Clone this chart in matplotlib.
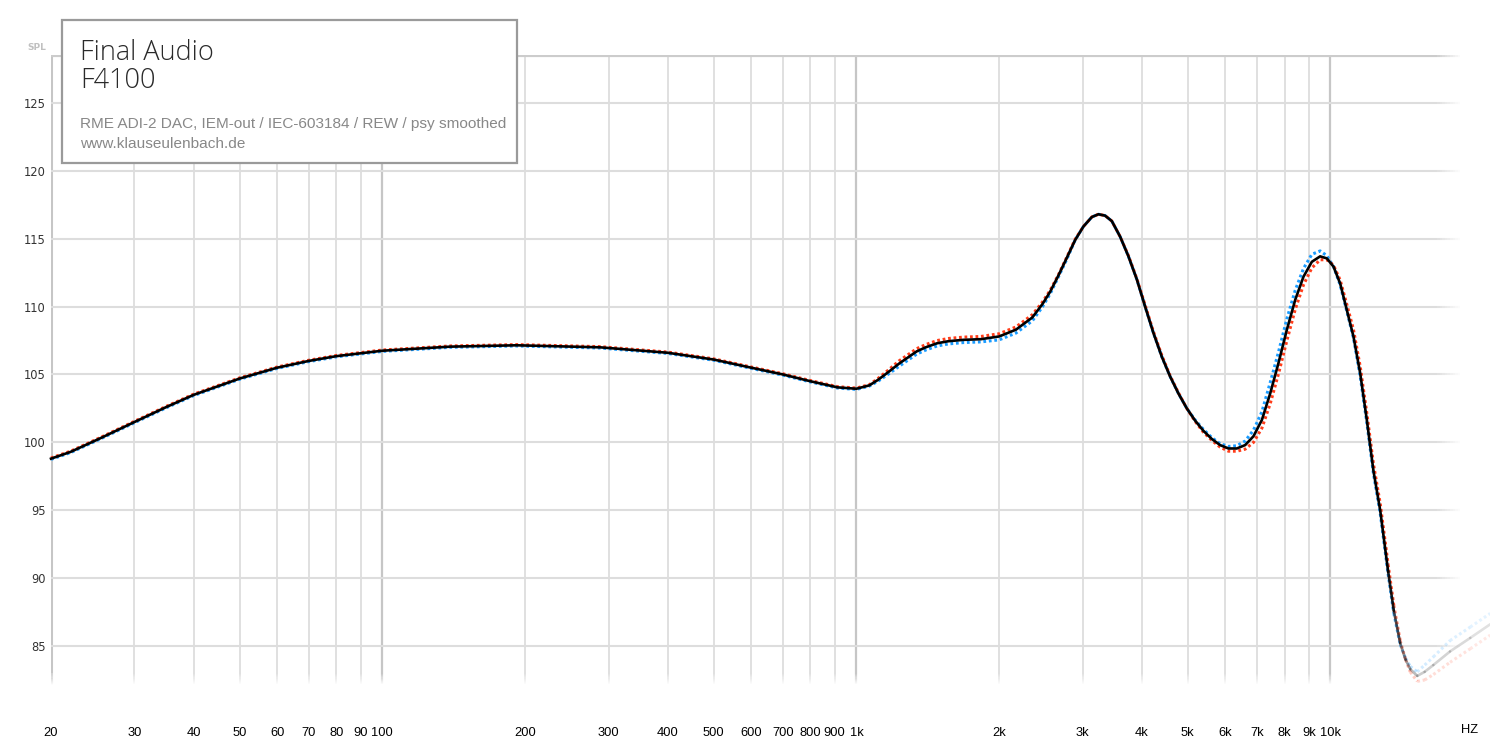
import numpy as np
import matplotlib
matplotlib.use("Agg")
import matplotlib.pyplot as plt
from matplotlib.collections import LineCollection
from matplotlib.patches import Rectangle

# frequency response, Final Audio F4100
freq = [20, 22, 25.4, 30, 35, 40, 50, 60, 70, 80,
        100, 139, 192, 288, 400, 500, 600, 700, 800, 913,
        1000, 1065, 1110, 1170, 1230, 1290, 1340, 1400, 1480, 1563,
        1680, 1830, 2000, 2170, 2350, 2470, 2563, 2668, 2779, 2893,
        3012, 3138, 3240, 3346, 3457, 3600, 3748, 3904, 4064, 4232,
        4408, 4589, 4778, 4977, 5182, 5395, 5619, 5850, 6091, 6344,
        6607, 6879, 7166, 7461, 7768, 8091, 8426, 8770, 9134, 9510,
        9824, 10146, 10481, 10826, 11180, 11550, 11930, 12320, 12730, 13230,
        13600, 14030, 14400, 14730, 15240, 15800, 16480, 17870, 19720, 21720]

spl_avg = [98.8, 99.3, 100.3, 101.5, 102.6, 103.5, 104.7, 105.5, 106.0, 106.35,
           106.75, 107.05, 107.15, 107.0, 106.6, 106.1, 105.5, 105.0, 104.5, 104.05,
           103.95, 104.2, 104.6, 105.2, 105.8, 106.3, 106.7, 107.0, 107.3, 107.45,
           107.55, 107.6, 107.8, 108.3, 109.2, 110.2, 111.1, 112.3, 113.6, 114.9,
           115.9, 116.6, 116.8, 116.7, 116.3, 115.15, 113.7, 112.0, 110.0, 108.05,
           106.3, 104.85, 103.6, 102.5, 101.6, 100.85, 100.25, 99.8, 99.55, 99.55,
           99.8, 100.45, 101.65, 103.6, 105.85, 108.3, 110.5, 112.2, 113.3, 113.7,
           113.55, 112.95, 111.7, 109.75, 107.8, 105.1, 101.65, 97.9, 95.0, 90.5,
           87.6, 85.2, 84.0, 83.3, 82.8, 83.1, 83.6, 84.6, 85.6, 86.6]

spl_left = [98.75, 99.25, 100.25, 101.45, 102.55, 103.45, 104.65, 105.45, 105.95, 106.3,
            106.7, 107.0, 107.1, 106.95, 106.55, 106.05, 105.45, 104.95, 104.45, 104.0,
            103.9, 104.15, 104.5, 105.05, 105.6, 106.1, 106.5, 106.8, 107.1, 107.25,
            107.35, 107.4, 107.55, 108.05, 108.95, 110.0, 110.95, 112.2, 113.5, 114.9,
            115.9, 116.6, 116.8, 116.7, 116.3, 115.15, 113.7, 112.0, 110.0, 108.05,
            106.3, 104.85, 103.6, 102.5, 101.65, 100.95, 100.35, 99.9, 99.7, 99.75,
            100.1, 100.9, 102.25, 104.4, 106.65, 109.1, 111.2, 112.8, 113.85, 114.1,
            113.75, 112.95, 111.6, 109.65, 107.7, 104.9, 101.45, 97.7, 94.8, 90.3,
            87.4, 85.1, 84.1, 83.5, 83.1, 83.6, 84.2, 85.4, 86.4, 87.4]

spl_right = [98.85, 99.35, 100.35, 101.55, 102.65, 103.55, 104.75, 105.55, 106.05, 106.4,
             106.8, 107.1, 107.2, 107.05, 106.65, 106.15, 105.55, 105.05, 104.55, 104.1,
             104.0, 104.25, 104.7, 105.35, 106.0, 106.5, 106.9, 107.2, 107.5, 107.65,
             107.75, 107.8, 108.0, 108.5, 109.4, 110.35, 111.2, 112.35, 113.65, 114.95,
             115.9, 116.6, 116.8, 116.7, 116.3, 115.15, 113.75, 112.05, 110.1, 108.15,
             106.4, 104.9, 103.65, 102.5, 101.55, 100.75, 100.15, 99.65, 99.35, 99.35,
             99.5, 100.0, 101.05, 102.85, 105.05, 107.5, 109.8, 111.6, 112.85, 113.45,
             113.45, 113.05, 111.95, 110.15, 108.3, 105.6, 102.15, 98.4, 95.5, 91.0,
             88.0, 85.4, 84.0, 83.1, 82.4, 82.5, 82.9, 83.8, 84.8, 85.8]

x_ticks = [20, 30, 40, 50, 60, 70, 80, 90, 100, 200, 300, 400, 500, 600, 700, 800,
           900, 1000, 2000, 3000, 4000, 5000, 6000, 7000, 8000, 9000, 10000]
x_labels = ["20", "30", "40", "50", "60", "70", "80", "90", "100", "200", "300",
            "400", "500", "600", "700", "800", "900", "1k", "2k", "3k", "4k", "5k",
            "6k", "7k", "8k", "9k", "10k"]
y_ticks = [85, 90, 95, 100, 105, 110, 115, 120, 125]

XMIN, XMAX = 20, 21700
YMIN, YMAX = 82.13, 128.53

fig = plt.figure(figsize=(15, 7.5), dpi=100)
ax = fig.add_axes([51 / 1500, 1 - 685 / 750, (1490 - 51) / 1500, 630 / 750])
ax.set_xscale("log")
ax.set_xlim(XMIN, XMAX)
ax.set_ylim(YMIN, YMAX)
for s in ax.spines.values():
    s.set_visible(False)


def rgba(color, alphas):
    c = np.array(matplotlib.colors.to_rgba(color))
    out = np.tile(c, (len(alphas), 1))
    out[:, 3] = alphas
    return out


def faded(xs, ys, color, lw, alphas, z, ls="solid", cap="butt"):
    pts = np.column_stack([xs, ys])
    segs = np.stack([pts[:-1], pts[1:]], axis=1)
    lc = LineCollection(segs, colors=rgba(color, alphas), linewidths=lw,
                        linestyles=ls, zorder=z, capstyle=cap)
    ax.add_collection(lc)


# vertical grid, fading out at the bottom
yv = np.linspace(83.0, YMIN, 12)
for f in x_ticks:
    major = f in (20, 100, 1000, 10000)
    col = "#c6c6c6" if major else "#dddddd"
    lw = 2.2 if f == 20 else (1.6 if major else 1.3)
    ax.plot([f, f], [YMAX, 83.0], color=col, lw=lw, zorder=1, solid_capstyle="butt")
    faded([f] * len(yv), yv, col, lw, np.linspace(1, 0, len(yv) - 1), 1)

# horizontal grid, fading out at the right
xh = np.logspace(np.log10(16600), np.log10(19000), 12)
for v in y_ticks:
    ax.plot([XMIN, 16600], [v, v], color="#dddddd", lw=1.5, zorder=1, solid_capstyle="butt")
    faded(xh, [v] * len(xh), "#dddddd", 1.5, np.linspace(1, 0, len(xh) - 1), 1)
ax.plot([XMIN, 16600], [YMAX, YMAX], color="#cccccc", lw=3, zorder=1, solid_capstyle="butt")
faded(xh, [YMAX] * len(xh), "#cccccc", 3, np.linspace(1, 0, len(xh) - 1), 1)

# curves (left = blue dots, right = red dots, average = black)
f_arr = np.array(freq)
cut = int(np.searchsorted(f_arr, 13230))
lf = np.log10(f_arr[cut:])
fade_a = np.interp(lf, np.log10([13230, 14030, 15240, 22000]), [1.0, 0.5, 0.2, 0.1])
seg_a = (fade_a[:-1] + fade_a[1:]) / 2

series = [(spl_left, "#1a9cff", (0, (0.9, 0.9)), 2.2, 3),
          (spl_right, "#ff3d1a", (0, (0.9, 0.9)), 2.2, 3),
          (spl_avg, "black", "solid", 1.9, 4)]
for vals, col, ls, lw, z in series:
    v = np.array(vals)
    ax.plot(f_arr[:cut + 1], v[:cut + 1], color=col, lw=lw, ls=ls, zorder=z,
            solid_joinstyle="round", clip_on=False)
    faded(f_arr[cut:], v[cut:], col, lw, seg_a, z, ls=ls,
          cap="round" if ls == "solid" else "butt")

# ticks
ax.set_xticks(x_ticks)
ax.set_xticklabels(x_labels, fontfamily="Liberation Sans", fontsize=9.3, color="black")
ax.xaxis.set_minor_locator(matplotlib.ticker.NullLocator())
ax.set_yticks(y_ticks)
ax.set_yticklabels([str(t) for t in y_ticks], fontfamily="DejaVu Sans", fontsize=8.3,
                   color="#333333")
ax.tick_params(axis="x", length=0, pad=30)
ax.tick_params(axis="y", length=0, pad=4)

fig.text(37 / 1500, 1 - 47 / 750, "SPL", ha="center", va="center", fontsize=6.5,
         color="#c0c0c0", fontweight="bold", fontfamily="DejaVu Sans")
fig.text(1470 / 1500, 1 - 730 / 750, "HZ", ha="center", va="center", fontsize=9.3,
         fontfamily="Liberation Sans", color="black")

# info box
fig.patches.append(Rectangle((62 / 1500, 1 - 163 / 750), 455 / 1500, 143 / 750,
                             transform=fig.transFigure, facecolor="white",
                             edgecolor="#9a9a9a", lw=1.6, zorder=10))
fig.text(80 / 1500, 1 - 60 / 750, "Final Audio", fontsize=19.5, color="#2a2a2a",
         fontfamily="Open Sans", fontweight="light", va="baseline", zorder=11)
fig.text(80 / 1500, 1 - 88 / 750, "F4100", fontsize=19.5, color="#2a2a2a",
         fontfamily="Open Sans", fontweight="light", va="baseline", zorder=11)
fig.text(80 / 1500, 1 - 128 / 750,
         "RME ADI-2 DAC, IEM-out / IEC-603184 / REW / psy smoothed",
         fontsize=11.1, color="#888888", fontfamily="Liberation Sans",
         va="baseline", zorder=11)
fig.text(80 / 1500, 1 - 148 / 750, "www.klauseulenbach.de", fontsize=11.1,
         color="#888888", fontfamily="Liberation Sans",
         va="baseline", zorder=11)

fig.savefig("out.png", dpi=100)
